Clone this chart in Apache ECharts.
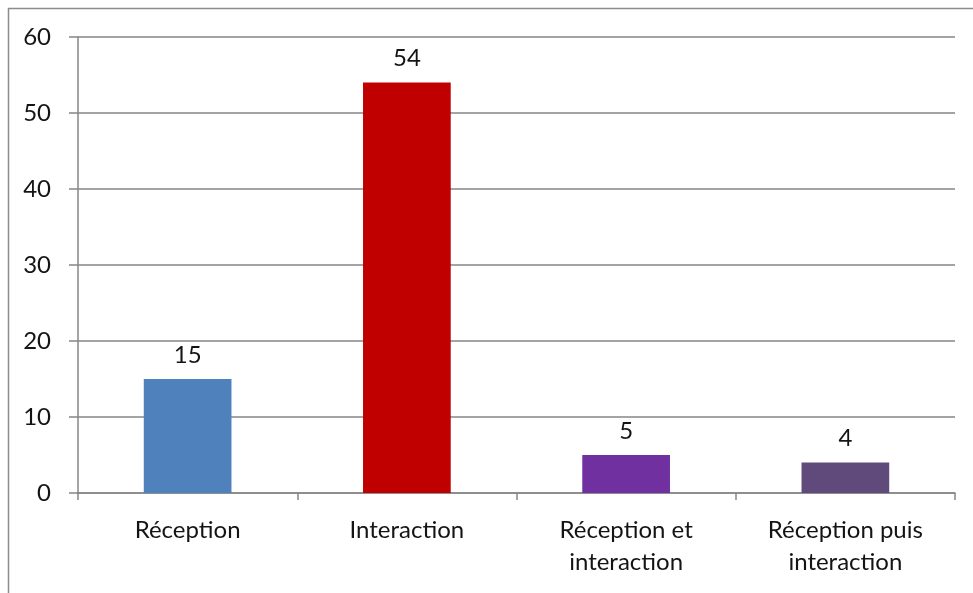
<!DOCTYPE html>
<html><head><meta charset="utf-8">
<script src="https://cdn.jsdelivr.net/npm/echarts@6/dist/echarts.min.js"></script>
<style>html,body{margin:0;padding:0;background:#fff}#c{width:973px;height:593px}</style>
</head><body><div id="c"></div>
<script>
const categories = ['Réception', 'Interaction', 'Réception et\ninteraction', 'Réception puis\ninteraction'];
const values = [15, 54, 5, 4];
const colors = ['#4F81BD', '#C00000', '#7030A0', '#604A7B'];
const yTicks = { min: 0, max: 60, interval: 10 };

const chart = echarts.init(document.getElementById('c'));
const font = 'Lato, "Open Sans", sans-serif';
chart.setOption({
  animation: false,
  graphic: [{ type: 'rect', shape: { x: 8.5, y: 8.5, width: 1100, height: 1000 },
    style: { fill: 'none', stroke: '#8c8c8c', lineWidth: 1.5 } }],
  grid: { left: 78, right: 18, top: 37, bottom: 100 },
  xAxis: {
    type: 'category', data: categories,
    axisLine: { lineStyle: { color: '#868686', width: 1.5 } },
    axisTick: { show: true, length: 7, lineStyle: { color: '#868686', width: 1.5 } },
    axisLabel: { color: '#141414', fontFamily: font, fontSize: 24, margin: 21, lineHeight: 32, interval: 0 }
  },
  yAxis: {
    type: 'value', min: yTicks.min, max: yTicks.max, interval: yTicks.interval,
    axisLine: { show: true, lineStyle: { color: '#868686', width: 1.5 } },
    axisTick: { show: true, inside: false, length: 9, lineStyle: { color: '#868686', width: 1.5 } },
    splitLine: { lineStyle: { color: '#868686', width: 1.5 } },
    axisLabel: { color: '#141414', fontFamily: font, fontSize: 24, margin: 27 }
  },
  series: [{
    type: 'bar', barWidth: '40%',
    data: values.map((v, i) => ({ value: v, itemStyle: { color: colors[i] } })),
    label: { show: true, position: 'top', distance: 12, color: '#141414', fontFamily: font, fontSize: 24 }
  }]
});
</script></body></html>
